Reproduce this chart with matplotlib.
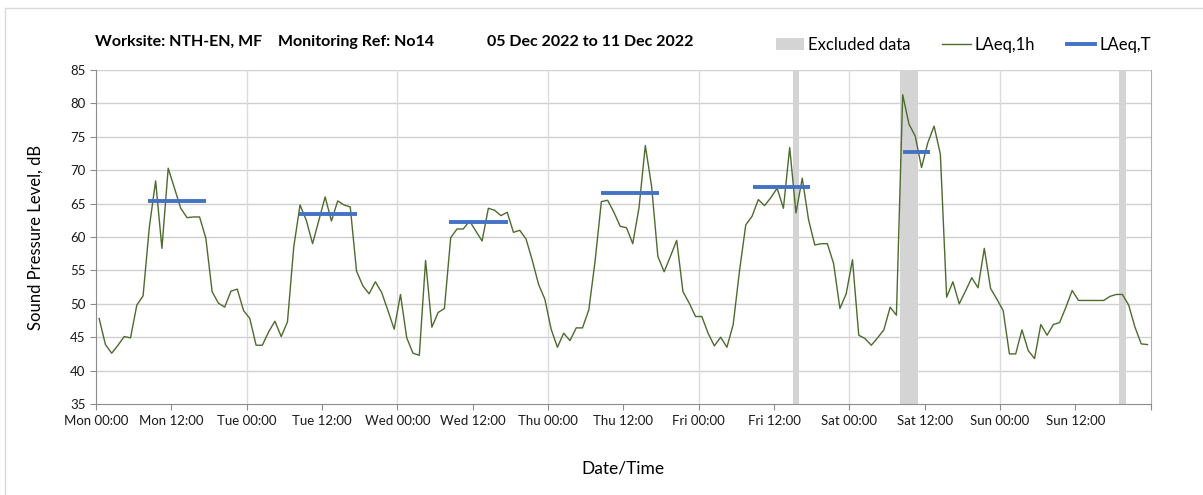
import numpy as np
import matplotlib
matplotlib.use("Agg")
from matplotlib import pyplot as plt
from matplotlib.patches import Patch, Rectangle
from matplotlib.lines import Line2D

plt.rcParams['font.family'] = ['Lato', 'DejaVu Sans']

# hourly LAeq,1h values, Mon 00:00 .. Sun 23:00
laeq_1h = [
    47.8, 43.9, 42.6, 43.8, 45.1, 44.9, 49.8, 51.2, 61.5, 68.4, 58.3, 70.3,
    67.3, 64.3, 62.9, 63.0, 63.0, 59.8, 51.8, 50.1, 49.5, 51.9, 52.2, 49.0,
    47.8, 43.8, 43.8, 45.8, 47.4, 45.1, 47.3, 58.5, 64.8, 62.5, 59.0, 62.5,
    66.0, 62.4, 65.4, 64.8, 64.5, 54.9, 52.7, 51.5, 53.3, 51.7, 49.0, 46.2,
    51.4, 44.9, 42.6, 42.3, 56.5, 46.5, 48.7, 49.3, 59.9, 61.2, 61.2, 62.4,
    60.9, 59.4, 64.3, 64.0, 63.2, 63.7, 60.7, 61.0, 59.7, 56.5, 52.9, 50.7,
    46.2, 43.5, 45.6, 44.5, 46.4, 46.4, 49.1, 56.4, 65.3, 65.5, 63.7, 61.6,
    61.4, 59.0, 64.4, 73.7, 67.6, 57.1, 54.8, 57.1, 59.5, 51.8, 50.1, 48.1,
    48.1, 45.6, 43.7, 45.0, 43.5, 46.9, 54.9, 61.8, 63.1, 65.6, 64.7, 65.9,
    67.3, 64.3, 73.4, 63.6, 68.8, 62.6, 58.8, 59.0, 59.0, 56.0, 49.3, 51.5,
    56.6, 45.3, 44.8, 43.8, 44.9, 46.1, 49.5, 48.3, 81.3, 76.9, 75.1, 70.4,
    74.1, 76.6, 72.4, 51.0, 53.3, 50.0, 51.9, 53.9, 52.4, 58.3, 52.3, 50.7,
    49.0, 42.5, 42.5, 46.1, 43.0, 41.8, 46.9, 45.3, 46.9, 47.2, 49.5, 52.0,
    50.5, 50.5, 50.5, 50.5, 50.5, 51.1, 51.4, 51.4, 49.8, 46.5, 44.0, 43.9,
]

# LAeq,T periods (hours from Mon 00:00) and levels
period_start = [8.3, 32.3, 56.3, 80.4, 104.6, 128.5]
period_end = [17.6, 41.6, 65.6, 89.7, 113.8, 132.8]
laeq_t = [65.4, 63.5, 62.3, 66.6, 67.5, 72.7]

# excluded data (hours from Mon 00:00)
excl_start = [111.0, 128.0, 163.0]
excl_end = [112.0, 131.0, 164.0]

days = ["Mon", "Tue", "Wed", "Thu", "Fri", "Sat", "Sun"]
tick_labels = [f"{d} {t}" for d in days for t in ("00:00", "12:00")] + [""]

title_parts = ["Worksite: NTH-EN, MF", "Monitoring Ref: No14", "05 Dec 2022 to 11 Dec 2022"]

hours = np.arange(len(laeq_1h)) + 0.5

fig = plt.figure(figsize=(12.03, 4.95), dpi=100)
ax = fig.add_axes([0.0798, 0.1838, 0.8767, 0.6748])

border = Rectangle((5 / 1203, -0.1), 1.2, 1.1 - 8 / 495, transform=fig.transFigure,
                   fill=False, edgecolor="#d9d9d9", linewidth=1, zorder=0)
fig.patches.append(border)

for s, e in zip(excl_start, excl_end):
    ax.axvspan(s, e, color="#d4d4d4", lw=0, zorder=1)

ax.plot(hours, laeq_1h, color="#4e6b2f", lw=1.0, zorder=3)
ax.hlines(laeq_t, period_start, period_end, color="#4472c4", lw=2.8, zorder=4)

ax.set_xlim(0, 168)
ax.set_ylim(35, 85)
ax.set_yticks(np.arange(35, 86, 5))
ax.set_xticks(np.arange(0, 169, 12))
ax.set_xticklabels(tick_labels)
ax.tick_params(axis="both", labelsize=9.5, color="#8c8c8c", length=4, labelcolor="#1a1a1a")
ax.tick_params(axis="x", pad=4)

for y in range(40, 86, 5):
    ax.axhline(y, color="#d0d0d0", lw=1, zorder=0)
for x in range(24, 168, 24):
    ax.axvline(x, color="#dcdcdc", lw=1, zorder=0)

for side in ("left", "bottom"):
    ax.spines[side].set_color("#8c8c8c")
ax.spines["right"].set_color("#b0b0b0")
ax.spines["top"].set_visible(False)

ax.set_ylabel("Sound Pressure Level, dB", fontsize=12, labelpad=19)
ax.set_xlabel("Date/Time", fontsize=12.5, labelpad=24)

for x0, txt in zip([95, 278, 487], title_parts):
    fig.text(x0 / 1203, 1 - 42 / 495, txt, fontsize=11.5, fontweight="bold",
             va="center", ha="left")

handles = [
    Patch(facecolor="#d4d4d4", edgecolor="none"),
    Line2D([], [], color="#4e6b2f", lw=1.0),
    Line2D([], [], color="#4472c4", lw=2.8),
]
fig.legend(handles, ["Excluded data", "LAeq,1h", "LAeq,T"], loc="center right",
           bbox_to_anchor=(1166 / 1203, 1 - 45 / 495), ncol=3, frameon=False,
           fontsize=12, handlelength=1.7, handletextpad=0.25, columnspacing=1.9)

fig.savefig("out.png", dpi=100)
